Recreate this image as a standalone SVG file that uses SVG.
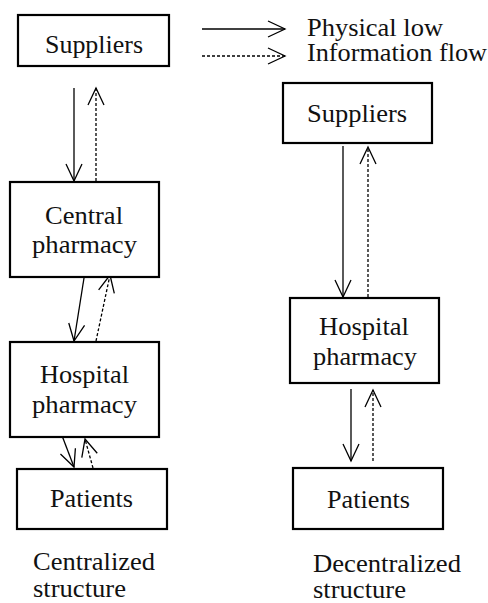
<svg xmlns="http://www.w3.org/2000/svg" width="488" height="603" viewBox="0 0 488 603">
<defs>
<marker id="ah" markerUnits="userSpaceOnUse" markerWidth="24" markerHeight="24" viewBox="-20 -12 24 24" refX="0" refY="0" orient="auto" overflow="visible">
<path d="M-17,-8 L0,0 L-17,8" fill="none" stroke="#000" stroke-width="1.3"/>
</marker>
<style>
.box{fill:#fff;stroke:#000;stroke-width:2.2}
text{font-family:'Liberation Serif',Tinos,'Noto Serif','DejaVu Serif',FreeSerif,'Nimbus Roman','Nimbus Roman No9 L',Times,'Times New Roman',serif;font-size:25px;fill:#111}
.s{fill:none;stroke:#000;stroke-width:1.3;marker-end:url(#ah)}
.d{fill:none;stroke:#000;stroke-width:1.3;stroke-dasharray:3 2;marker-end:url(#ah)}
</style>
</defs>
<rect width="488" height="603" fill="#fff"/>
<g id="connectors">
<line class="s" x1="202" y1="29" x2="285" y2="29"/>
<line class="d" x1="202" y1="56" x2="285" y2="56"/>
<line class="s" x1="74" y1="88" x2="74" y2="181"/>
<line class="d" x1="96" y1="181" x2="96" y2="88"/>
<line class="s" x1="84" y1="278" x2="74" y2="341"/>
<line class="d" x1="96" y1="341" x2="110" y2="275"/>
<line class="s" x1="61" y1="433" x2="74" y2="467"/>
<line class="d" x1="93" y1="468" x2="85" y2="439"/>
<line class="s" x1="343" y1="146" x2="343" y2="297"/>
<line class="d" x1="368" y1="297" x2="368" y2="147"/>
<line class="s" x1="351" y1="389" x2="351" y2="461"/>
<line class="d" x1="373" y1="461" x2="373" y2="390"/>
</g>
<g id="legend">
<text x="307" y="36" textLength="136" lengthAdjust="spacingAndGlyphs">Physical low</text>
<text x="307" y="61" textLength="180" lengthAdjust="spacingAndGlyphs">Information flow</text>
</g>
<g id="suppliers-c">
<rect class="box" x="18" y="15" width="151" height="51"/>
<text x="45" y="53" textLength="98" lengthAdjust="spacingAndGlyphs">Suppliers</text>
</g>
<g id="central-pharmacy">
<rect class="box" x="10" y="182" width="149" height="95"/>
<text x="45" y="224" textLength="78" lengthAdjust="spacingAndGlyphs">Central</text>
<text x="32" y="253" textLength="105" lengthAdjust="spacingAndGlyphs">pharmacy</text>
</g>
<g id="hospital-c">
<rect class="box" x="10" y="342" width="149" height="95"/>
<text x="40" y="383" textLength="89" lengthAdjust="spacingAndGlyphs">Hospital</text>
<text x="32" y="413" textLength="105" lengthAdjust="spacingAndGlyphs">pharmacy</text>
</g>
<g id="patients-c">
<rect class="box" x="17" y="469" width="150" height="60"/>
<text x="50" y="507" textLength="83" lengthAdjust="spacingAndGlyphs">Patients</text>
</g>
<g id="label-c">
<text x="33" y="570" textLength="122" lengthAdjust="spacingAndGlyphs">Centralized</text>
<text x="33" y="597" textLength="93" lengthAdjust="spacingAndGlyphs">structure</text>
</g>
<g id="suppliers-d">
<rect class="box" x="283" y="83" width="149" height="60"/>
<text x="307" y="122" textLength="100" lengthAdjust="spacingAndGlyphs">Suppliers</text>
</g>
<g id="hospital-d">
<rect class="box" x="290" y="298" width="149" height="85"/>
<text x="319" y="335" textLength="90" lengthAdjust="spacingAndGlyphs">Hospital</text>
<text x="313" y="365" textLength="104" lengthAdjust="spacingAndGlyphs">pharmacy</text>
</g>
<g id="patients-d">
<rect class="box" x="293" y="468" width="150" height="61"/>
<text x="327" y="508" textLength="83" lengthAdjust="spacingAndGlyphs">Patients</text>
</g>
<g id="label-d">
<text x="313" y="572" textLength="148" lengthAdjust="spacingAndGlyphs">Decentralized</text>
<text x="313" y="598" textLength="93" lengthAdjust="spacingAndGlyphs">structure</text>
</g>
</svg>
